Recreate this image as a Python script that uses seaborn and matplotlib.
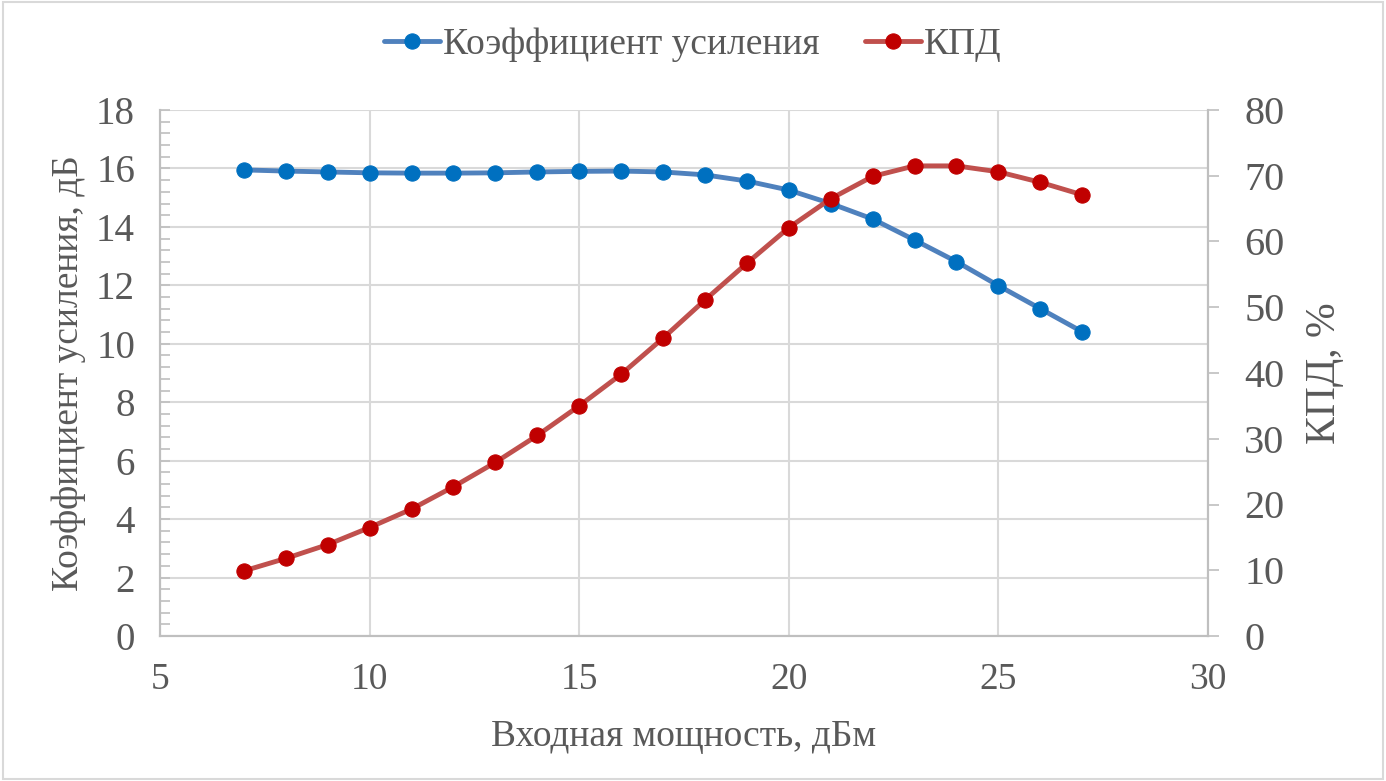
import matplotlib
matplotlib.use("Agg")
import matplotlib.pyplot as plt
import seaborn as sns
import pandas as pd
from matplotlib.ticker import MultipleLocator
from matplotlib.patches import Rectangle

pin = [7, 8, 9, 10, 11, 12, 13, 14, 15, 16, 17, 18, 19, 20, 21, 22, 23, 24, 25, 26, 27]
gain = [15.95, 15.91, 15.88, 15.85, 15.84, 15.84, 15.85, 15.88, 15.9, 15.91, 15.88, 15.78,
        15.57, 15.26, 14.8, 14.27, 13.55, 12.81, 11.99, 11.2, 10.41]
eff = [9.9, 11.8, 13.9, 16.5, 19.3, 22.7, 26.4, 30.5, 35.0, 39.8, 45.3, 51.1,
       56.7, 62.1, 66.5, 69.9, 71.5, 71.5, 70.6, 69.0, 67.1]

label_gain = "Коэффициент усиления"
label_eff = "КПД"
xlabel = "Входная мощность, дБм"
ylabel_left = "Коэффициент усиления, дБ"
ylabel_right = "КПД, %"

sns.set_style("white")
plt.rcParams['font.family'] = ['Liberation Serif', 'DejaVu Serif']
txt = '#595959'
grid_c = '#D9D9D9'
spine_c = '#BFBFBF'

df = pd.DataFrame({"pin": pin, "gain": gain, "eff": eff})

fig = plt.figure(figsize=(13.86, 7.81), dpi=100)
ax = fig.add_axes([160/1386, 1-636/781, (1208-160)/1386, (636-110)/781])
ax2 = ax.twinx()

sns.lineplot(data=df, x="pin", y="gain", ax=ax, color='#4F81BD', lw=3.5,
             marker='o', markersize=11, markerfacecolor='#0070C0', markeredgecolor='#0070C0',
             label=label_gain, legend=False, zorder=3)
sns.lineplot(data=df, x="pin", y="eff", ax=ax2, color='#C0504D', lw=3.5,
             marker='o', markersize=11, markerfacecolor='#C00000', markeredgecolor='#C00000',
             label=label_eff, legend=False, zorder=3)

ax.set_xlim(5, 30)
ax.set_ylim(0, 18)
ax2.set_ylim(0, 80)
ax.xaxis.set_major_locator(MultipleLocator(5))
ax.xaxis.set_minor_locator(MultipleLocator(1))
ax.yaxis.set_major_locator(MultipleLocator(2))
ax.yaxis.set_minor_locator(MultipleLocator(0.4))
ax2.yaxis.set_major_locator(MultipleLocator(10))

ax.grid(True, which='major', color=grid_c, lw=1.5)
ax.set_axisbelow(True)

for a in (ax, ax2):
    for s in a.spines.values():
        s.set_color(spine_c)
        s.set_linewidth(1.5)
    a.spines['top'].set_visible(False)

ax.tick_params(axis='x', which='both', direction='in', length=7, color=spine_c, width=1.2,
               labelsize=27, labelcolor=txt, pad=19)
ax.tick_params(axis='y', which='both', direction='in', length=7, color=spine_c, width=1.2,
               labelsize=28, labelcolor=txt, pad=18)
ax2.tick_params(axis='y', which='major', direction='out', length=8, color=spine_c, width=1.2,
                labelsize=29, labelcolor=txt, pad=18)

ax.set_xlabel(xlabel, fontsize=27, color=txt, labelpad=16)
ax.set_ylabel(ylabel_left, fontsize=27, color=txt, labelpad=7)
ax2.set_ylabel(ylabel_right, fontsize=30, color=txt, labelpad=15)

h1, l1 = ax.get_legend_handles_labels()
h2, l2 = ax2.get_legend_handles_labels()
fig.legend(h1 + h2, l1 + l2, loc='center', bbox_to_anchor=(0.5, 1-45/781), ncol=2,
           frameon=False, fontsize=27, labelcolor=txt, handlelength=1.5,
           handletextpad=0.08, columnspacing=1.2)

fig.patches.append(Rectangle((0.002, 0.003), 0.996, 0.994, transform=fig.transFigure,
                             fill=False, edgecolor='#D9D9D9', lw=1.5))

fig.savefig("out.png", dpi=100)
